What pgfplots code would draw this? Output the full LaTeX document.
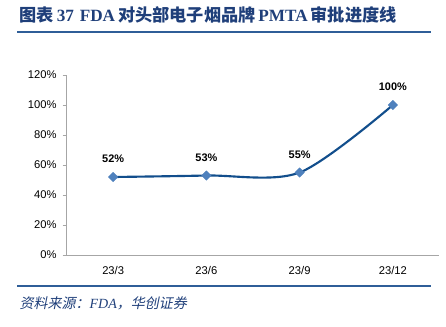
\documentclass[border=0pt]{standalone}
\usepackage{fontspec}
\usepackage{pgfplots}
\pgfplotsset{compat=1.18}
\setmainfont{Liberation Sans}
\newfontfamily\cjk{Noto Sans CJK SC}
\newfontfamily\cjkit[FakeSlant=0.2]{Noto Sans CJK SC}
\newfontfamily\tnr{Liberation Serif}
\definecolor{titlec}{HTML}{1F3F7A}
\definecolor{rulec}{HTML}{2F5E98}
\definecolor{linec}{HTML}{124E8C}
\definecolor{markc}{HTML}{4F81BD}
\definecolor{gridc}{HTML}{A6A6A6}
\begin{document}
\begin{tikzpicture}
\path[use as bounding box] (0,0) rectangle (334.5pt,-244.5pt);
% title
\node[anchor=west,inner sep=0pt,text=titlec] at (14.5pt,-11.5pt)
  {\fontsize{12.9pt}{15pt}\selectfont\bfseries{\cjk 图表}\,{\tnr 37}\,\,{\tnr FDA}\,{\cjk 对头部电子烟品牌}\,{\tnr PMTA}\,{\cjk 审批进度线}};
\draw[rulec,line width=1.5pt] (12.75pt,-24pt) -- (323.25pt,-24pt);
\draw[rulec,line width=1.5pt] (12.75pt,-214.5pt) -- (323.25pt,-214.5pt);
\node[anchor=west,inner sep=0pt,text=titlec] at (14.5pt,-227.5pt)
  {\fontsize{10.5pt}{12pt}\selectfont{\cjkit 资料来源：}{\tnr\itshape FDA}{\cjkit ，华创证券}};
\begin{axis}[
  at={(49.9pt,-191.25pt)}, anchor=south west,
  scale only axis, width=279.7pt, height=135pt,
  xmin=-0.5, xmax=3.5, ymin=0, ymax=120,
  xtick={0,1,2,3}, xticklabels={23/3,23/6,23/9,23/12},
  ytick={0,20,40,60,80,100,120},
  yticklabel={\pgfmathprintnumber{\tick}\%},
  /pgf/number format/assume math mode=true,
  axis x line=bottom, axis y line=left,
  axis line style={gridc,-},
  x axis line style={draw=gridc},
  xtick style={draw=none},
  ytick style={draw=gridc},
  tick align=outside, major tick length=3pt,
  ticklabel style={font=\fontsize{8.4pt}{10pt}\selectfont},
  yticklabel style={xshift=-1pt},
  xticklabel style={yshift=-2pt},
  clip=false,
  nodes near coords={\pgfmathprintnumber{\pgfplotspointmeta}\%},
  nodes near coords style={font=\fontsize{8.2pt}{10pt}\selectfont\bfseries,text=black,yshift=7pt},
]
\addplot[linec, line width=1.6pt, smooth, mark=square*, mark size=2.5pt,
  mark options={fill=markc,draw=markc,line width=0.3pt,rotate=45}]
  coordinates {(0,52) (1,53) (2,55) (3,100)};
\end{axis}
\end{tikzpicture}
\end{document}
